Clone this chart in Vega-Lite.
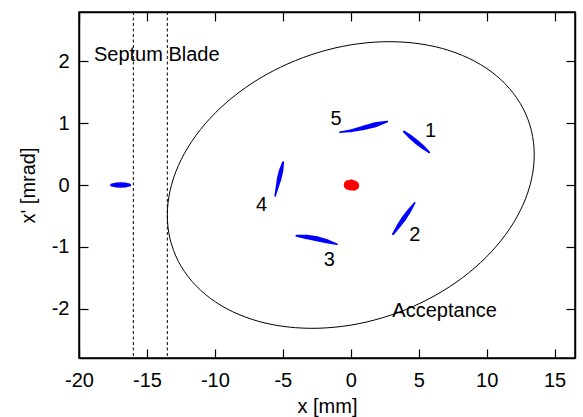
{
  "$schema": "https://vega.github.io/schema/vega-lite/v6.json",
  "width": 496,
  "height": 346,
  "autosize": {"type": "none"},
  "padding": {"left": 79, "top": 12, "right": 8, "bottom": 59},
  "background": "white",
  "config": {
    "view": {"stroke": "black", "strokeWidth": 1.5},
    "font": "Liberation Sans",
    "axis": {
      "domainColor": "black",
      "domainWidth": 1.5,
      "tickColor": "black",
      "tickWidth": 1.2,
      "tickSize": -9,
      "grid": false,
      "labelFont": "Liberation Sans",
      "labelFontSize": 20,
      "labelColor": "black",
      "labelExpr": "'' + datum.value",
      "titleFont": "Liberation Sans",
      "titleFontSize": 20,
      "titleFontWeight": "normal",
      "titleColor": "black"
    }
  },
  "datasets": {
    "acceptance": [
      {"t": 0, "x": 13.5, "xp": 0.49},
      {"t": 10, "x": 13.295, "xp": 0.877},
      {"t": 20, "x": 12.686, "xp": 1.236},
      {"t": 30, "x": 11.691, "xp": 1.558},
      {"t": 40, "x": 10.342, "xp": 1.833},
      {"t": 50, "x": 8.678, "xp": 2.052},
      {"t": 60, "x": 6.75, "xp": 2.209},
      {"t": 70, "x": 4.617, "xp": 2.298},
      {"t": 80, "x": 2.344, "xp": 2.318},
      {"t": 90, "x": 0, "xp": 2.268},
      {"t": 100, "x": -2.344, "xp": 2.148},
      {"t": 110, "x": -4.617, "xp": 1.963},
      {"t": 120, "x": -6.75, "xp": 1.719},
      {"t": 130, "x": -8.678, "xp": 1.422},
      {"t": 140, "x": -10.342, "xp": 1.082},
      {"t": 150, "x": -11.691, "xp": 0.709},
      {"t": 160, "x": -12.686, "xp": 0.315},
      {"t": 170, "x": -13.295, "xp": -0.089},
      {"t": 180, "x": -13.5, "xp": -0.49},
      {"t": 190, "x": -13.295, "xp": -0.877},
      {"t": 200, "x": -12.686, "xp": -1.236},
      {"t": 210, "x": -11.691, "xp": -1.558},
      {"t": 220, "x": -10.342, "xp": -1.833},
      {"t": 230, "x": -8.678, "xp": -2.052},
      {"t": 240, "x": -6.75, "xp": -2.209},
      {"t": 250, "x": -4.617, "xp": -2.298},
      {"t": 260, "x": -2.344, "xp": -2.318},
      {"t": 270, "x": 0, "xp": -2.268},
      {"t": 280, "x": 2.344, "xp": -2.148},
      {"t": 290, "x": 4.617, "xp": -1.963},
      {"t": 300, "x": 6.75, "xp": -1.719},
      {"t": 310, "x": 8.678, "xp": -1.422},
      {"t": 320, "x": 10.342, "xp": -1.082},
      {"t": 330, "x": 11.691, "xp": -0.709},
      {"t": 340, "x": 12.686, "xp": -0.315},
      {"t": 350, "x": 13.295, "xp": 0.089}
    ],
    "septum": [
      {"x": -16.0},
      {"x": -13.5}
    ],
    "bunches": [
      {"bunch": "0", "beam": "injected", "i": 0, "x": -17.6, "xp": 0.0, "w": 3},
      {"bunch": "0", "beam": "injected", "i": 1, "x": -17.25, "xp": 0.0, "w": 5},
      {"bunch": "0", "beam": "injected", "i": 2, "x": -16.93, "xp": 0.0, "w": 5.5},
      {"bunch": "0", "beam": "injected", "i": 3, "x": -16.6, "xp": 0.0, "w": 5},
      {"bunch": "0", "beam": "injected", "i": 4, "x": -16.27, "xp": 0.0, "w": 3},

      {"bunch": "1", "beam": "injected", "i": 0, "x": 3.92, "xp": 0.864, "w": 2},
      {"bunch": "1", "beam": "injected", "i": 1, "x": 4.38, "xp": 0.78, "w": 4},
      {"bunch": "1", "beam": "injected", "i": 2, "x": 4.84, "xp": 0.697, "w": 4.5},
      {"bunch": "1", "beam": "injected", "i": 3, "x": 5.3, "xp": 0.614, "w": 4},
      {"bunch": "1", "beam": "injected", "i": 4, "x": 5.76, "xp": 0.53, "w": 2},

      {"bunch": "2", "beam": "injected", "i": 0, "x": 3.11, "xp": -0.794, "w": 2},
      {"bunch": "2", "beam": "injected", "i": 1, "x": 3.51, "xp": -0.667, "w": 4},
      {"bunch": "2", "beam": "injected", "i": 2, "x": 3.91, "xp": -0.54, "w": 5},
      {"bunch": "2", "beam": "injected", "i": 3, "x": 4.31, "xp": -0.414, "w": 4},
      {"bunch": "2", "beam": "injected", "i": 4, "x": 4.71, "xp": -0.287, "w": 1.5},

      {"bunch": "3", "beam": "injected", "i": 0, "x": -4.0, "xp": -0.82, "w": 2},
      {"bunch": "3", "beam": "injected", "i": 1, "x": -3.25, "xp": -0.84, "w": 4.5},
      {"bunch": "3", "beam": "injected", "i": 2, "x": -2.5, "xp": -0.87, "w": 5},
      {"bunch": "3", "beam": "injected", "i": 3, "x": -1.76, "xp": -0.91, "w": 4},
      {"bunch": "3", "beam": "injected", "i": 4, "x": -1.01, "xp": -0.96, "w": 1.5},

      {"bunch": "4", "beam": "injected", "i": 0, "x": -5.57, "xp": -0.178, "w": 1.5},
      {"bunch": "4", "beam": "injected", "i": 1, "x": -5.42, "xp": -0.04, "w": 3},
      {"bunch": "4", "beam": "injected", "i": 2, "x": -5.28, "xp": 0.095, "w": 4.5},
      {"bunch": "4", "beam": "injected", "i": 3, "x": -5.13, "xp": 0.23, "w": 4.5},
      {"bunch": "4", "beam": "injected", "i": 4, "x": -4.98, "xp": 0.368, "w": 2},

      {"bunch": "5", "beam": "injected", "i": 0, "x": -0.81, "xp": 0.854, "w": 1.5},
      {"bunch": "5", "beam": "injected", "i": 1, "x": 0.06, "xp": 0.88, "w": 3},
      {"bunch": "5", "beam": "injected", "i": 2, "x": 0.93, "xp": 0.925, "w": 4.5},
      {"bunch": "5", "beam": "injected", "i": 3, "x": 1.8, "xp": 0.975, "w": 5},
      {"bunch": "5", "beam": "injected", "i": 4, "x": 2.67, "xp": 1.026, "w": 2},

      {"bunch": "stored", "beam": "stored", "i": 0, "x": -0.15, "xp": 0.0, "w": 10},
      {"bunch": "stored", "beam": "stored", "i": 1, "x": 0.05, "xp": 0.0, "w": 11},
      {"bunch": "stored", "beam": "stored", "i": 2, "x": 0.25, "xp": -0.01, "w": 10}
    ],
    "turns": [
      {"turn": "1", "x": 5.87, "xp": 0.78},
      {"turn": "2", "x": 4.71, "xp": -0.9},
      {"turn": "3", "x": -1.58, "xp": -1.31},
      {"turn": "4", "x": -6.57, "xp": -0.42},
      {"turn": "5", "x": -1.08, "xp": 0.97}
    ],
    "notes": [
      {"note": "Septum Blade", "x": -18.9, "xp": 2.0},
      {"note": "Acceptance", "x": 3.06, "xp": -2.14}
    ]
  },
  "resolve": {"axis": {"x": "independent", "y": "independent"}},
  "layer": [
    {
      "data": {"name": "acceptance"},
      "mark": {"type": "line", "color": "black", "strokeWidth": 1, "interpolate": "cardinal-closed"},
      "encoding": {
        "x": {
          "field": "x", "type": "quantitative",
          "scale": {"domain": [-20, 16.5], "nice": false, "zero": false},
          "axis": {"orient": "bottom", "values": [-20, -15, -10, -5, 0, 5, 10, 15], "labelPadding": 21, "title": "x [mm]", "titlePadding": 6, "labelFlush": false}
        },
        "y": {
          "field": "xp", "type": "quantitative",
          "scale": {"domain": [-2.8, 2.8], "nice": false, "zero": false},
          "axis": {"orient": "left", "values": [-2, -1, 0, 1, 2], "labelPadding": 19, "title": "x' [mrad]", "titlePadding": 13, "labelFlush": false}
        },
        "order": {"field": "t", "type": "quantitative"}
      }
    },
    {
      "data": {"name": "septum"},
      "mark": {"type": "rule", "color": "black", "strokeWidth": 1, "strokeDash": [3, 2.5]},
      "encoding": {
        "x": {
          "field": "x", "type": "quantitative",
          "axis": {"orient": "top", "values": [-20, -15, -10, -5, 0, 5, 10, 15], "labels": false, "title": null}
        }
      }
    },
    {
      "data": {"name": "bunches"},
      "mark": {"type": "trail"},
      "encoding": {
        "x": {"field": "x", "type": "quantitative", "axis": null},
        "y": {"field": "xp", "type": "quantitative", "axis": null},
        "size": {"field": "w", "type": "quantitative", "scale": null, "legend": null},
        "detail": {"field": "bunch"},
        "order": {"field": "i", "type": "quantitative"},
        "color": {
          "field": "beam", "type": "nominal",
          "scale": {"domain": ["injected", "stored"], "range": ["#0000ff", "#ff0000"]},
          "legend": null
        }
      }
    },
    {
      "data": {"name": "turns"},
      "mark": {"type": "text", "font": "Liberation Sans", "fontSize": 20, "color": "black", "align": "center", "baseline": "alphabetic"},
      "encoding": {
        "x": {"field": "x", "type": "quantitative", "axis": null},
        "y": {
          "field": "xp", "type": "quantitative",
          "axis": {"orient": "right", "values": [-2, -1, 0, 1, 2], "labels": false, "title": null}
        },
        "text": {"field": "turn"}
      }
    },
    {
      "data": {"name": "notes"},
      "mark": {"type": "text", "font": "Liberation Sans", "fontSize": 20, "color": "black", "align": "left", "baseline": "alphabetic"},
      "encoding": {
        "x": {"field": "x", "type": "quantitative", "axis": null},
        "y": {"field": "xp", "type": "quantitative", "axis": null},
        "text": {"field": "note"}
      }
    }
  ]
}
